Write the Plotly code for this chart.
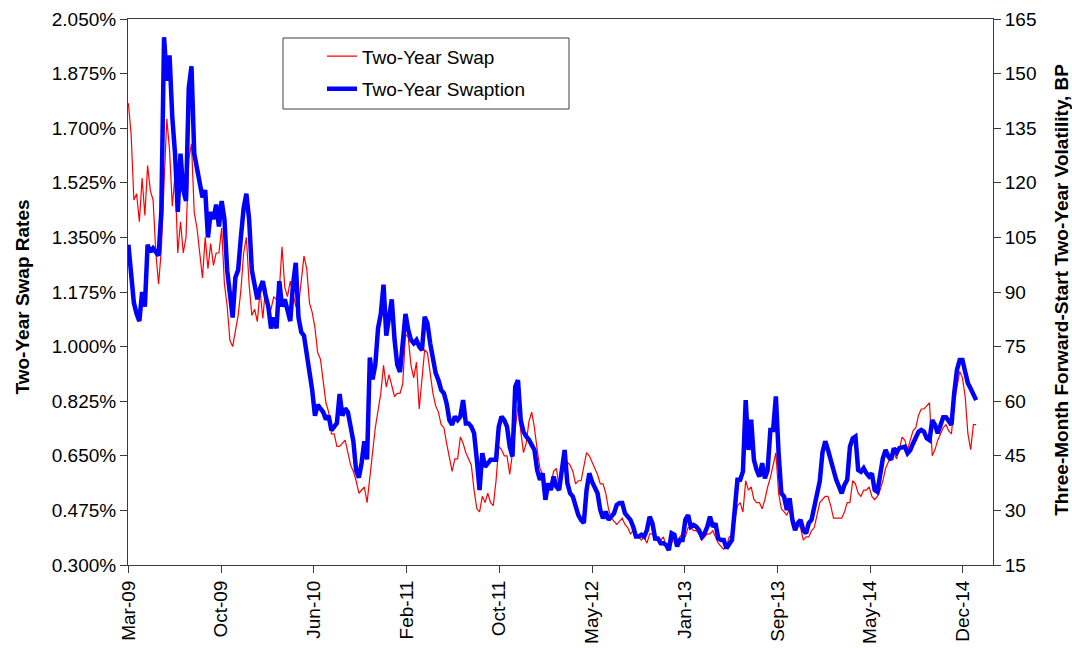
import pandas as pd
import plotly.graph_objects as go

# Weekly observations, first week of March 2009 through end of January 2015
START = "2009-03-02"
N_WEEKS = 310

# Two-year swap rate, percent
swap_rate = [
    1.78, 1.68, 1.47, 1.49, 1.40, 1.54, 1.42, 1.58, 1.50, 1.47, 1.30, 1.20,
    1.31, 1.55, 1.73, 1.63, 1.45, 1.55, 1.30, 1.40, 1.30, 1.35, 1.60, 1.65,
    1.43, 1.38, 1.30, 1.22, 1.35, 1.25, 1.33, 1.26, 1.30, 1.30, 1.38, 1.20,
    1.13, 1.02, 1.00, 1.05, 1.10, 1.18, 1.30, 1.35, 1.20, 1.10, 1.12, 1.08,
    1.18, 1.09, 1.19, 1.11, 1.12, 1.16, 1.15, 1.18, 1.32, 1.19, 1.16, 1.21,
    1.17, 1.13, 1.13, 1.21, 1.29, 1.25, 1.14, 1.11, 1.06, 0.98, 0.96, 0.89,
    0.82, 0.79, 0.72, 0.72, 0.68, 0.68, 0.69, 0.70, 0.66, 0.62, 0.60, 0.57,
    0.53, 0.54, 0.55, 0.50, 0.59, 0.66, 0.74, 0.79, 0.85, 0.94, 0.87, 0.91,
    0.87, 0.84, 0.85, 0.85, 0.88, 1.04, 1.03, 0.94, 0.90, 0.95, 0.80, 0.89,
    0.99, 0.98, 0.91, 0.85, 0.81, 0.79, 0.75, 0.74, 0.69, 0.64, 0.60, 0.64,
    0.64, 0.71, 0.69, 0.66, 0.64, 0.62, 0.54, 0.48, 0.47, 0.52, 0.50, 0.53,
    0.50, 0.49, 0.57, 0.68, 0.67, 0.65, 0.65, 0.59, 0.66, 0.74, 0.81, 0.73,
    0.66, 0.69, 0.76, 0.79, 0.74, 0.67, 0.61, 0.59, 0.54, 0.54, 0.56, 0.60,
    0.61, 0.55, 0.63, 0.60, 0.63, 0.62, 0.60, 0.56, 0.57, 0.57, 0.62, 0.66,
    0.65, 0.63, 0.61, 0.59, 0.56, 0.56, 0.53, 0.48, 0.45, 0.44, 0.43, 0.44,
    0.45, 0.43, 0.42, 0.40, 0.41, 0.40, 0.39, 0.38, 0.39, 0.37, 0.40, 0.40,
    0.38, 0.38, 0.38, 0.39, 0.36, 0.37, 0.37, 0.39, 0.37, 0.39, 0.40, 0.39,
    0.42, 0.42, 0.41, 0.41, 0.40, 0.38, 0.39, 0.40, 0.40, 0.41, 0.39, 0.37,
    0.36, 0.35, 0.36, 0.39, 0.39, 0.44, 0.49, 0.50, 0.47, 0.57, 0.54, 0.55,
    0.51, 0.50, 0.50, 0.48, 0.51, 0.55, 0.58, 0.62, 0.66, 0.53, 0.48, 0.47,
    0.46, 0.48, 0.46, 0.43, 0.43, 0.42, 0.38, 0.39, 0.39, 0.41, 0.42, 0.46,
    0.50, 0.51, 0.52, 0.52, 0.49, 0.45, 0.45, 0.45, 0.45, 0.47, 0.50, 0.50,
    0.57, 0.56, 0.53, 0.52, 0.54, 0.54, 0.55, 0.52, 0.51, 0.52, 0.54, 0.57,
    0.61, 0.63, 0.65, 0.66, 0.64, 0.67, 0.71, 0.70, 0.67, 0.70, 0.73, 0.74,
    0.78, 0.80, 0.80, 0.81, 0.82, 0.65, 0.67, 0.70, 0.72, 0.74, 0.75, 0.73,
    0.72, 0.82, 0.87, 0.92, 0.90, 0.84, 0.72, 0.67, 0.75, 0.75,
]

# Three-month forward-start two-year swaption normal volatility, bp
swaption_vol = [
    103, 96, 87, 84, 82, 90, 86, 103, 101, 102, 101, 100,
    112, 160, 148, 155, 138, 128, 112, 128, 118, 115, 146, 152,
    128, 124, 121, 116, 118, 105, 112, 110, 114, 108, 115, 110,
    96, 89, 83, 94, 96, 105, 113, 117, 110, 96, 92, 88,
    91, 93, 89, 86, 80, 83, 80, 93, 86, 88, 85, 82,
    92, 98, 83, 79, 78, 72, 68, 63, 56, 59, 58, 57,
    55, 56, 52, 53, 54, 62, 56, 58, 57, 53, 49, 41,
    39, 43, 49, 44, 72, 66, 70, 80, 84, 92, 78, 83,
    88, 77, 70, 68, 78, 84, 79.6, 76.8, 75.9, 76.8, 75, 74,
    83.2, 81.4, 75.9, 71.3, 67.7, 65.8, 63.1, 62.2, 59.4, 54.8, 53.5, 55.8,
    54.8, 55.8, 60.3, 53.9, 53.9, 53, 51.2, 43.9, 35.6, 45.7, 42, 42.9,
    43.9, 43.9, 43.9, 53, 55.8, 54.8, 53, 47.5, 44.8, 64, 65.8, 54.8,
    51.6, 50.3, 49.4, 48, 46.6, 41.1, 38.4, 40.2, 32.9, 37.4, 35.6, 39.3,
    36.5, 35.6, 40.2, 46.6, 37.5, 34.7, 33.8, 31, 28.7, 27.4, 26.5, 35.6,
    40.2, 37.9, 36.5, 34.7, 30.1, 27.8, 29.7, 27.4, 28.3, 29.2, 31.5, 32,
    32, 29.2, 28.3, 27.4, 25.5, 22.8, 22.8, 23.3, 22.8, 24.6, 28.3, 26.5,
    22.3, 22.3, 21, 21, 20.5, 19.1, 23.7, 23.3, 20.1, 21.9, 21.9, 27.4,
    28.7, 25.5, 26, 25.5, 24.6, 22.8, 23.7, 25.5, 28.3, 25.5, 26.4, 22.3,
    21.9, 21.9, 19.6, 21, 21.9, 30.1, 38.4, 38.4, 40.7, 60.3, 46.6, 54.9,
    43.9, 41.1, 39.3, 43, 38.8, 41.1, 52.1, 52.1, 61.3, 45.7, 34.7, 33.8,
    30.1, 33.3, 27.4, 24.6, 26.5, 27.4, 24.6, 23.7, 26.5, 27.4, 31, 33.8,
    38, 46, 49, 46.6, 43.4, 41.1, 38.4, 36.5, 34.7, 37, 38.4, 47.5,
    49.8, 50.3, 41.1, 40.6, 41.6, 40.2, 39.3, 40.2, 35.6, 35.1, 39.3, 44.3,
    46.6, 44.8, 43.9, 47.1, 45.9, 47.1, 47.3, 47.5, 45.7, 46.6, 48.4, 49.8,
    51.6, 52.1, 51.6, 49.8, 49.3, 54.8, 53.5, 51.2, 53.5, 55.6, 55.6, 54.4,
    53.5, 62.2, 68.6, 71.3, 71.3, 68.1, 64.9, 63.5, 61.7, 60.3,
]

dates = pd.date_range(START, periods=N_WEEKS, freq="7D")

# Axis ticks
x_tick_dates = ["2009-03-02", "2009-10-25", "2010-06-18", "2011-02-10", "2011-10-04",
                "2012-05-28", "2013-01-20", "2013-09-13", "2014-05-08", "2014-12-30"]
rate_ticks = [0.300, 0.475, 0.650, 0.825, 1.000, 1.175, 1.350, 1.525, 1.700, 1.875, 2.050]
rate_tick_labels = [f"{v:.3f}%" for v in rate_ticks]
vol_ticks = [15, 30, 45, 60, 75, 90, 105, 120, 135, 150, 165]

FONT = "Liberation Sans, Arial, sans-serif"
AXIS_COLOR = "#3a3a3a"
X_RANGE = ["2009-03-01", "2015-03-17"]

fig = go.Figure()
# Volatility first so the thin swap-rate line stays visible on top of it
fig.add_trace(go.Scatter(
    x=dates, y=swaption_vol, name="Two-Year Swaption", mode="lines",
    line=dict(color="#0000ff", width=4.5), yaxis="y2",
    legendgroup="b", legendrank=2,
))
fig.add_trace(go.Scatter(
    x=dates, y=swap_rate, name="Two-Year Swap", mode="lines",
    line=dict(color="#ff0000", width=1.2), yaxis="y",
    legendgroup="a", legendrank=1,
))

common_y = dict(showgrid=False, zeroline=False, fixedrange=True, automargin=False)

fig.update_layout(
    width=1072, height=648,
    margin=dict(l=128, r=79, t=19, b=83, autoexpand=False),
    paper_bgcolor="white", plot_bgcolor="white",
    font=dict(family=FONT, size=19, color="black"),
    showlegend=True,
    legend=dict(
        x=(322 - 128) / 865, y=(565 - 37.3) / 546, xanchor="left", yanchor="top",
        bgcolor="rgba(0,0,0,0)", borderwidth=0, tracegroupgap=5,
        traceorder="grouped",
        font=dict(family=FONT, size=19, color="black"),
    ),
    xaxis=dict(
        type="date", range=X_RANGE, tickvals=x_tick_dates, tickformat="%b-%y",
        tickangle=-90, ticks="outside", ticklen=7, tickcolor=AXIS_COLOR,
        showline=True, linecolor=AXIS_COLOR, linewidth=1, mirror=True,
        showgrid=False, zeroline=False, automargin=False,
        tickfont=dict(family=FONT, size=19, color="black"),
    ),
    xaxis2=dict(
        type="date", range=X_RANGE, tickvals=x_tick_dates, overlaying="x",
        side="bottom", anchor="y", ticks="inside", ticklen=7, tickcolor=AXIS_COLOR,
        showticklabels=False, showline=False, showgrid=False, zeroline=False,
        automargin=False,
    ),
    yaxis=dict(
        range=[0.300, 2.050], tickvals=rate_ticks, ticktext=rate_tick_labels,
        ticks="outside", ticklen=7, tickcolor=AXIS_COLOR,
        showline=True, linecolor=AXIS_COLOR, linewidth=1,
        tickfont=dict(family=FONT, size=19, color="black"), **common_y,
    ),
    yaxis2=dict(
        range=[15, 165], tickvals=vol_ticks, overlaying="y", side="right",
        ticks="outside", ticklen=7, tickcolor=AXIS_COLOR,
        showline=True, linecolor=AXIS_COLOR, linewidth=1,
        tickfont=dict(family=FONT, size=19, color="black"), **common_y,
    ),
    yaxis3=dict(
        range=[0.300, 2.050], tickvals=rate_ticks, overlaying="y", side="left",
        ticks="inside", ticklen=7, tickcolor=AXIS_COLOR, showticklabels=False,
        showline=False, **common_y,
    ),
    yaxis4=dict(
        range=[15, 165], tickvals=vol_ticks, overlaying="y", side="right",
        ticks="inside", ticklen=7, tickcolor=AXIS_COLOR, showticklabels=False,
        showline=False, **common_y,
    ),
    shapes=[dict(
        type="rect", xref="paper", yref="paper",
        x0=(283 - 128) / 865, x1=(569 - 128) / 865,
        y0=(565 - 109) / 546, y1=(565 - 38) / 546,
        line=dict(color="#404040", width=1), fillcolor="rgba(0,0,0,0)",
    )],
    annotations=[
        dict(text="<b>Two-Year Swap Rates</b>", xref="paper", yref="paper",
             x=0, y=0.49, xshift=-106, textangle=-90, showarrow=False,
             xanchor="center", yanchor="middle",
             font=dict(family=FONT, size=19, color="black")),
        dict(text="<b>Three-Month Forward-Start Two-Year Volatility, BP</b>",
             xref="paper", yref="paper", x=1, y=0.504, xshift=69, textangle=-90,
             showarrow=False, xanchor="center", yanchor="middle",
             font=dict(family=FONT, size=19, color="black")),
    ],
)

fig.write_html("out.html")
